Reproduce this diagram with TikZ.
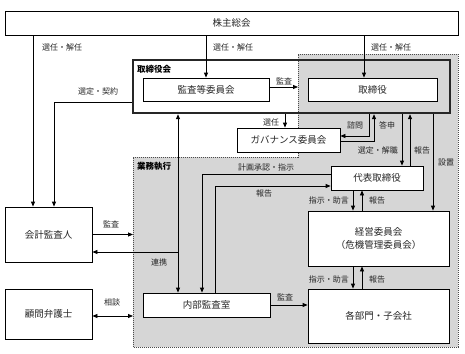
\documentclass[tikz,border=0pt]{standalone}
\usepackage{fontspec}
\setmainfont{Noto Sans CJK JP}
\usetikzlibrary{arrows.meta,calc}
\begin{document}
\begin{tikzpicture}[x=1pt,y=-1pt,
  box/.style={draw,line width=0.8pt,fill=white,inner sep=0pt,font=\fontsize{9.5}{12.5}\selectfont,align=center,text=black!85},
  lab/.style={font=\fontsize{8}{9}\selectfont,inner sep=0pt,text=black!85},
  arr/.style={line width=0.8pt,-{Triangle[length=5pt,width=4pt]}},
  darr/.style={line width=0.8pt,{Triangle[length=5pt,width=4pt]}-{Triangle[length=5pt,width=4pt]}},
  ttl/.style={font=\fontsize{8.5}{9}\selectfont\bfseries,anchor=west,inner sep=0pt},
  region/.style={draw=black!70,line width=0.6pt,dash pattern=on 1pt off 1pt}]
\useasboundingbox (0,0) rectangle (465,353);
\fill[white] (0,0) rectangle (465,353);

% gray execution region
\coordinate (g1) at (298,54);
\coordinate (g2) at (458,54);
\coordinate (g3) at (458,347);
\coordinate (g4) at (133,347);
\coordinate (g5) at (133,157);
\coordinate (g6) at (298,157);
\fill[black!16] (g1) -- (g2) -- (g3) -- (g4) -- (g5) -- (g6) -- cycle;
\fill[white] (133,60) rectangle (298,113);
\draw[region] (g1) -- (g2) -- (g3) -- (g4) -- (g5) -- (g6) -- cycle;

% board frame
\node[draw=black!85,line width=2.4pt,minimum width=317pt,minimum height=53pt,inner sep=0pt] (kt) at (291.5,86.5) {};
\node[ttl] (ktl) at (137,69) {取締役会};
\node[ttl] (gyl) at (137,166) {業務執行};

% boxes
\node[box,minimum width=453pt,minimum height=24pt] (sh) at (231.5,23) {株主総会};
\node[box,minimum width=126pt,minimum height=23pt] (ak) at (206,89.5) {監査等委員会};
\node[box,minimum width=129pt,minimum height=23pt] (tr) at (372.5,89.5) {取締役};
\node[box,minimum width=103pt,minimum height=24pt] (gv) at (288.5,140) {ガバナンス委員会};
\node[box,minimum width=92pt,minimum height=24pt] (dh) at (377,178) {代表取締役};
\node[box,minimum width=87pt,minimum height=55pt] (kc) at (48.5,234.5) {会計監査人};
\node[box,minimum width=87pt,minimum height=50pt] (km) at (48.5,314) {顧問弁護士};
\node[box,minimum width=127pt,minimum height=24pt] (nb) at (206.5,305) {内部監査室};
\node[box,minimum width=141pt,minimum height=55pt] (ke) at (378.5,238.5) {経営委員会\\（危機管理委員会）};
\node[box,minimum width=141pt,minimum height=54pt] (kb) at (378.5,316) {各部門・子会社};

% shareholders
\coordinate (pL) at ($(kc.north)+(-15.5,0)$);
\draw[arr] (pL |- sh.south) -- (pL);
\draw[arr] (ak.north |- sh.south) -- (ak.north);
\coordinate (pT) at ($(tr.north)+(-8.5,0)$);
\draw[arr] (pT |- sh.south) -- (pT);
\node[lab] at (62,47) {選任・解任};
\node[lab,anchor=west] at (213,47) {選任・解任};
\node[lab,anchor=west] at (371,47) {選任・解任};

% selection / contract
\coordinate (pC) at ($(kc.north)+(5.5,0)$);
\draw[arr] ($(kt.west)+(0,15.5)$) -| (pC);
\node[lab] at (98,91) {選定・契約};

% audit committee -> directors
\coordinate (pA) at ($(ak.east)+(0,-2.5)$);
\draw[arr] (pA) -- (pA -| g1);
\node[lab] at (284,81) {監査};

% governance committee
\coordinate (pS) at ($(gv.north)+(-3.5,0)$);
\draw[arr] (pS |- kt.south) -- (pS);
\node[lab] at (271,122) {選任};
\coordinate (pQ) at ($(gv.east)+(0,-4)$);
\coordinate (xQ) at ($(tr.south)+(-3.5,0)$);
\draw[arr] (xQ |- kt.south) |- (pQ);
\coordinate (pR) at ($(gv.east)+(0,1)$);
\coordinate (xR) at ($(tr.south)+(1.5,0)$);
\draw[arr] (pR) -| (xR |- kt.south);
\node[lab] at (355,125) {諮問};
\node[lab] at (387,125) {答申};

% board <-> representative director
\coordinate (x1) at ($(dh.north)+(25,0)$);
\draw[arr] (x1 |- kt.south) -- (x1);
\coordinate (x2) at ($(dh.north)+(33,0)$);
\draw[arr] (x2) -- (x2 |- kt.south);
\node[lab,anchor=east] at (398,150) {選定・解職};
\node[lab] at (422,150) {報告};
\coordinate (x3) at ($(ke.north)+(54.5,0)$);
\draw[arr] (x3 |- kt.south) -- (x3);
\node[lab] at (446,163) {設置};

% representative director <-> internal audit
\coordinate (pP) at ($(dh.west)+(0,-4)$);
\coordinate (xP) at ($(nb.north)+(-4.5,0)$);
\draw[arr] (pP) -| (xP);
\node[lab] at (266,167) {計画承認・指示};
\coordinate (pH) at ($(dh.west)+(0,8)$);
\coordinate (xH) at ($(nb.north)+(8.5,0)$);
\draw[arr] (xH) |- (pH);
\node[lab] at (264,193) {報告};

% cooperation
\coordinate (xK) at ($(nb.north)+(-28.5,0)$);
\draw[darr] (xK) -- (xK |- kt.south);
\coordinate (pK) at ($(kc.east)+(0,17.5)$);
\draw[arr] (xK |- pK) -- (pK);
\node[lab] at (159,262) {連携};

% external
\draw[arr] (kc.east) -- (kc.east -| g5);
\node[lab] at (111,224) {監査};
\coordinate (pM) at ($(km.east)+(0,2)$);
\draw[darr] (pM) -- (pM -| g5);
\node[lab] at (112,302) {相談};

% internal audit -> departments
\draw[arr] (nb.east) -- (nb.east -| kb.west);
\node[lab] at (285,297) {監査};

% representative director <-> management committee <-> departments
\coordinate (xd) at ($(dh.south)+(-24,0)$);
\coordinate (xu) at ($(dh.south)+(-15,0)$);
\draw[arr] (xd) -- (xd |- ke.north);
\draw[arr] (xu |- ke.north) -- (xu);
\draw[arr] (xd |- ke.south) -- (xd |- kb.north);
\draw[arr] (xu |- kb.north) -- (xu |- ke.south);
\node[lab,anchor=east] at (349,200) {指示・助言};
\node[lab,anchor=west] at (369,200) {報告};
\node[lab,anchor=east] at (349,279) {指示・助言};
\node[lab,anchor=west] at (369,279) {報告};
\end{tikzpicture}
\end{document}
